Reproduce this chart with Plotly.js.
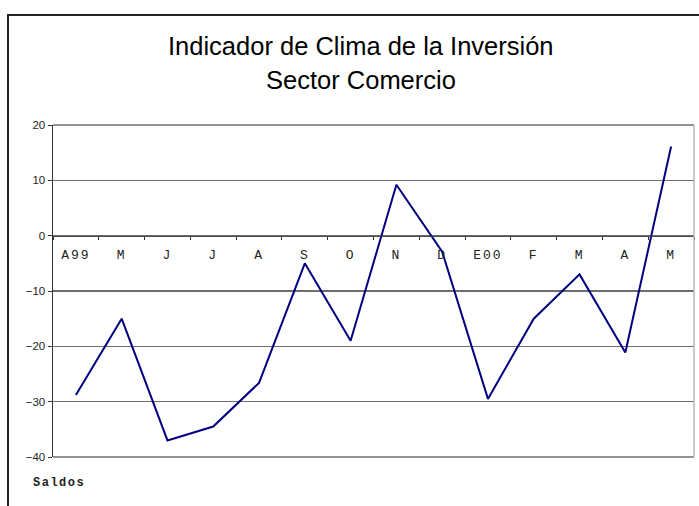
<!DOCTYPE html>
<html>
<head>
<meta charset="utf-8">
<script src="https://cdn.plot.ly/plotly-3.0.1.min.js"></script>
<style>
  html, body { margin: 0; padding: 0; background: #fff; }
  #wrap { position: relative; width: 699px; height: 506px; overflow: hidden; }
  #chart { width: 699px; height: 506px; }
  #frame { position: absolute; left: 7px; top: 14px; width: 720px; height: 600px;
           border-left: 2px solid #222; border-top: 2px solid #222; pointer-events: none; }
  .xtick text { letter-spacing: 2px; }
</style>
</head>
<body>
<div id="wrap">
  <div id="chart"></div>
  <div id="frame"></div>
</div>
<script>
// Data
const months = ["Abr99","May99","Jun99","Jul99","Ago99","Sep99","Oct99","Nov99","Dic99","Ene00","Feb00","Mar00","Abr00","May00"];
const tickLabels = ["A99","M","J","J","A","S","O","N","D","E00","F","M","A","M"];
const saldos = [-28.8, -15.0, -37.0, -34.5, -26.6, -5.0, -19.0, 9.2, -2.9, -29.5, -15.0, -7.0, -21.1, 16.1];
const yRange = [-40, 20];

const zeroPos = (0 - yRange[0]) / (yRange[1] - yRange[0]);

const trace = {
  type: "scatter",
  mode: "lines",
  x: months,
  y: saldos,
  line: { color: "#000080", width: 2 },
  hoverinfo: "skip"
};

const layout = {
  width: 699,
  height: 506,
  margin: { l: 53, r: 5, t: 125, b: 49 },
  paper_bgcolor: "#ffffff",
  plot_bgcolor: "#ffffff",
  showlegend: false,
  font: { family: "Liberation Sans, Arial, sans-serif", color: "#222" },
  xaxis: {
    type: "category",
    categoryorder: "array",
    categoryarray: months,
    range: [-0.5, months.length - 0.5],
    tickvals: months,
    ticktext: tickLabels,
    tickson: "boundaries",
    ticks: "outside",
    ticklen: 3,
    tickcolor: "#333",
    showgrid: false,
    zeroline: false,
    showline: true,
    linecolor: "#4a4a4a",
    linewidth: 1.3,
    anchor: "free",
    position: zeroPos,
    ticklabelstandoff: 6,
    tickfont: { family: "Liberation Mono, Courier New, monospace", size: 13, color: "#222" },
    fixedrange: true
  },
  yaxis: {
    range: yRange,
    dtick: 10,
    tick0: 0,
    ticks: "outside",
    ticklen: 4,
    tickcolor: "#333",
    showgrid: true,
    gridcolor: "#6e6e6e",
    gridwidth: 1.2,
    zeroline: false,
    showline: true,
    linecolor: "#333",
    linewidth: 1.5,
    tickfont: { family: "Liberation Sans, Arial, sans-serif", size: 11.5, color: "#222" },
    fixedrange: true
  },
  shapes: [
    { type: "line", xref: "paper", yref: "paper", x0: 0, x1: 1, y0: 1, y1: 1, layer: "below",
      line: { color: "#6e6e6e", width: 1.3 } },
    { type: "line", xref: "paper", yref: "paper", x0: 0, x1: 1, y0: 0, y1: 0, layer: "below",
      line: { color: "#6e6e6e", width: 1.3 } },
    { type: "line", xref: "paper", yref: "paper", x0: 1, x1: 1, y0: 0, y1: 1,
      line: { color: "#b8b8b8", width: 1.5 } }
  ],
  annotations: [
    { xref: "paper", yref: "paper", x: 0.48, y: 1.238, xanchor: "center", yanchor: "middle",
      text: "Indicador de Clima de la Inversión", showarrow: false,
      font: { family: "Liberation Sans, Arial, sans-serif", size: 25.5, color: "#000" } },
    { xref: "paper", yref: "paper", x: 0.48, y: 1.1355, xanchor: "center", yanchor: "middle",
      text: "Sector Comercio", showarrow: false,
      font: { family: "Liberation Sans, Arial, sans-serif", size: 25.5, color: "#000" } },
    { xref: "paper", yref: "paper", x: -0.035, y: -0.077, xanchor: "left", yanchor: "middle",
      text: "<b><span style=\"letter-spacing:1.5px\">Saldos</span></b>", showarrow: false,
      font: { family: "Liberation Mono, Courier New, monospace", size: 12, color: "#222" } }
  ]
};

Plotly.newPlot("chart", [trace], layout, { displayModeBar: false, staticPlot: true });
</script>
</body>
</html>
